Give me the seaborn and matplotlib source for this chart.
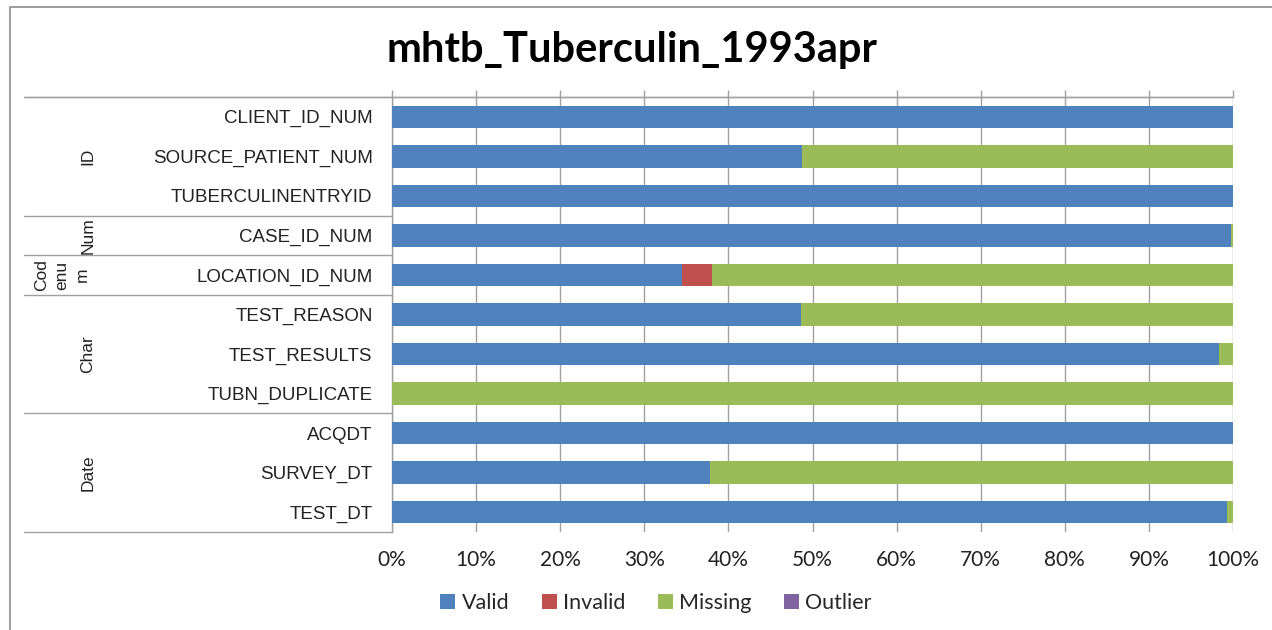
import matplotlib
matplotlib.use("Agg")
import matplotlib.pyplot as plt
from matplotlib.patches import Patch, Rectangle
import seaborn as sns
import pandas as pd
import numpy as np

title = "mhtb_Tuberculin_1993apr"
fields = ["CLIENT_ID_NUM", "SOURCE_PATIENT_NUM", "TUBERCULINENTRYID", "CASE_ID_NUM",
          "LOCATION_ID_NUM", "TEST_REASON", "TEST_RESULTS", "TUBN_DUPLICATE",
          "ACQDT", "SURVEY_DT", "TEST_DT"]
valid = [100, 48.8, 100, 99.8, 34.5, 48.6, 98.3, 0, 100, 37.8, 99.25]
invalid = [0, 0, 0, 0, 3.5, 0, 0, 0, 0, 0, 0]
missing = [0, 51.2, 0, 0.2, 62.0, 51.4, 1.7, 100, 0, 62.2, 0.75]
outlier = [0, 0, 0, 0, 0, 0, 0, 0, 0, 0, 0]
groups = ["ID", "Num", "Cod\nenu\nm", "Char", "Date"]
group_sizes = [3, 1, 1, 3, 3]
series = ["Valid", "Invalid", "Missing", "Outlier"]
colors = ["#4F81BD", "#C0504D", "#9BBB59", "#8064A2"]
xticks = [0, 10, 20, 30, 40, 50, 60, 70, 80, 90, 100]
xticklabels = [f"{t}%" for t in xticks]

W, H = 1272, 630
sns.set_theme(style="white")
fig = plt.figure(figsize=(W / 100, H / 100), dpi=100)
ax = fig.add_axes([392 / W, 1 - 532 / H, (1233 - 392) / W, (532 - 97) / H])

df = pd.DataFrame({"field": fields, "Valid": valid, "Invalid": invalid,
                   "Missing": missing, "Outlier": outlier})
cum = df[series].cumsum(axis=1)
# draw cumulative layers from back to front to form stacked bars
for s, c in reversed(list(zip(series, colors))):
    sns.barplot(data=pd.DataFrame({"field": fields, "v": cum[s]}), x="v", y="field",
                order=fields, orient="h", color=c, saturation=1, width=0.57,
                linewidth=0, ax=ax, zorder=3)

gcol = "#A0A0A0"
ax.set_xlim(0, 100)
ax.set_ylim(len(fields) - 0.5, -0.5)
ax.set_xticks(xticks)
ax.set_xticklabels(xticklabels, fontfamily="Lato", fontsize=15, color="#222222")
ax.set_xlabel("")
ax.set_ylabel("")
ax.set_yticks(range(len(fields)))
ax.set_yticklabels(fields, fontfamily="Liberation Sans", fontsize=13.5, color="#222222")
ax.tick_params(axis="y", length=0, pad=14)
ax.tick_params(axis="x", top=True, bottom=False, labeltop=False, labelbottom=True,
               direction="out", length=5, width=1, color=gcol, pad=8)
ax.grid(axis="x", color=gcol, linewidth=1, zorder=0)
ax.set_axisbelow(True)
for side in ["bottom", "right"]:
    ax.spines[side].set_visible(False)
for side in ["top", "left"]:
    ax.spines[side].set_color(gcol)
    ax.spines[side].set_linewidth(1)

# group separators and labels in the category area
ytr = ax.get_yaxis_transform()
xl = (24 - 392) / (1233 - 392)
start = -0.5
bounds = [start]
for g, n in zip(groups, group_sizes):
    end = start + n
    bounds.append(end)
    center = (start + end) / 2
    gx = (88 - 392) / (1233 - 392) if "\n" not in g else (62 - 392) / (1233 - 392)
    ax.text(gx, center, g, transform=ytr, rotation=90, ha="center", va="center",
            multialignment="center", linespacing=1.45,
            fontfamily="Liberation Sans", fontsize=12.5, color="#222222")
    start = end
for b in bounds:
    ax.plot([xl, 0], [b, b], transform=ytr, color=gcol, linewidth=1, clip_on=False)
ax.plot([xl, 1], [-0.5, -0.5], transform=ytr, color=gcol, linewidth=1, clip_on=False)

fig.text(632 / W, 1 - 62 / H, title, ha="center", va="baseline",
         fontfamily="Lato", fontweight="bold", fontsize=30, color="black")

handles = [Patch(facecolor=c, edgecolor="none", label=s) for s, c in zip(series, colors)]
fig.legend(handles=handles, loc="center", bbox_to_anchor=(656 / W, 1 - 603 / H), ncol=4,
           frameon=False, handlelength=0.7, handleheight=0.7, handletextpad=0.3,
           columnspacing=1.5, prop={"family": "Lato", "size": 15.5})

fig.add_artist(Rectangle((10 / W, -0.2), 1.0, 1 - 7 / H + 0.2, transform=fig.transFigure,
                         fill=False, edgecolor="#8C8C8C", linewidth=1.2))

fig.savefig("out.png", dpi=100)
